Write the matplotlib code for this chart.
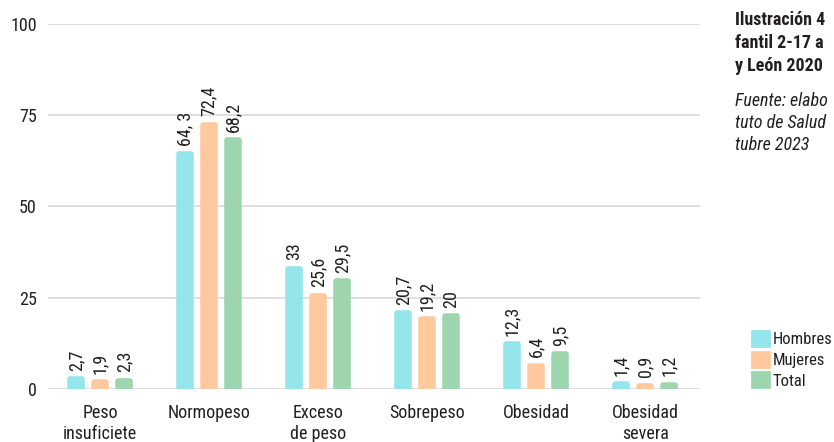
import numpy as np
import matplotlib
matplotlib.use("Agg")
import matplotlib.pyplot as plt
from matplotlib.patches import Patch

categorias = ["Peso\ninsuficiete", "Normopeso", "Exceso\nde peso", "Sobrepeso",
              "Obesidad", "Obesidad\nsevera"]
hombres = [2.7, 64.3, 33, 20.7, 12.3, 1.4]
mujeres = [1.9, 72.4, 25.6, 19.2, 6.4, 0.9]
total = [2.3, 68.2, 29.5, 20, 9.5, 1.2]
etiquetas_h = ["2,7", "64, 3", "33", "20,7", "12,3", "1,4"]
etiquetas_m = ["1,9", "72,4", "25,6", "19,2", "6,4", "0,9"]
etiquetas_t = ["2,3", "68,2", "29,5", "20", "9,5", "1,2"]
series = ["Hombres", "Mujeres", "Total"]
colores = ["#94e5ec", "#ffc99d", "#9dd6ae"]
yticks = [0, 25, 50, 75, 100]

plt.rcParams['font.family'] = ['Roboto Condensed', 'DejaVu Sans']
texto = "#231f20"

fig = plt.figure(figsize=(8.34, 4.42), dpi=100)
ax = fig.add_axes([0.0576, 0.12, 0.7814, 0.8257])

x = np.arange(len(categorias))
paso = 0.22
ancho = 0.115
for i, (vals, labs) in enumerate(zip([hombres, mujeres, total],
                                     [etiquetas_h, etiquetas_m, etiquetas_t])):
    pos = x + (i - 1) * paso
    bars = ax.bar(pos, vals, width=ancho, color=colores[i], edgecolor=colores[i],
                  linewidth=4, joinstyle='round', zorder=3)
    for b, lab in zip(bars, labs):
        ax.annotate(lab, (b.get_x() + b.get_width() / 2, b.get_height()),
                    xytext=(0, 6), textcoords="offset points", rotation=90,
                    ha="center", va="bottom", fontsize=13, color=texto)

ax.set_ylim(0, 100)
ax.set_xlim(-0.477, 5.5)
ax.set_yticks(yticks)
ax.set_xticks(x)
ax.set_xticklabels(categorias, fontsize=13, color=texto, linespacing=1.2)
ax.tick_params(axis='y', length=0, pad=8, labelsize=13, labelcolor=texto)
ax.tick_params(axis='x', length=0, pad=11)
ax.grid(axis='y', color="#d9d9d9", linewidth=1.2, zorder=0)
for s in ax.spines.values():
    s.set_visible(False)

handles = [Patch(facecolor=c, edgecolor=c, linewidth=2, joinstyle='round', label=s)
           for c, s in zip(colores, series)]
fig.legend(handles=handles, loc="upper left", bbox_to_anchor=(0.9017, 0.251),
           frameon=False, fontsize=12, handlelength=1.0, handleheight=1.0,
           handletextpad=0.25, labelspacing=0.27, borderaxespad=0, borderpad=0,
           labelcolor=texto)

fig.text(0.881, 0.976, "Ilustración 4\nfantil 2-17 a\ny León 2020",
         fontsize=13, fontweight="bold", color=texto, va="top", linespacing=1.37)
fig.text(0.881, 0.792, "Fuente: elabo\ntuto de Salud\ntubre 2023",
         fontsize=13, style="italic", color=texto, va="top", linespacing=1.3)

fig.savefig("out.png", dpi=100)
